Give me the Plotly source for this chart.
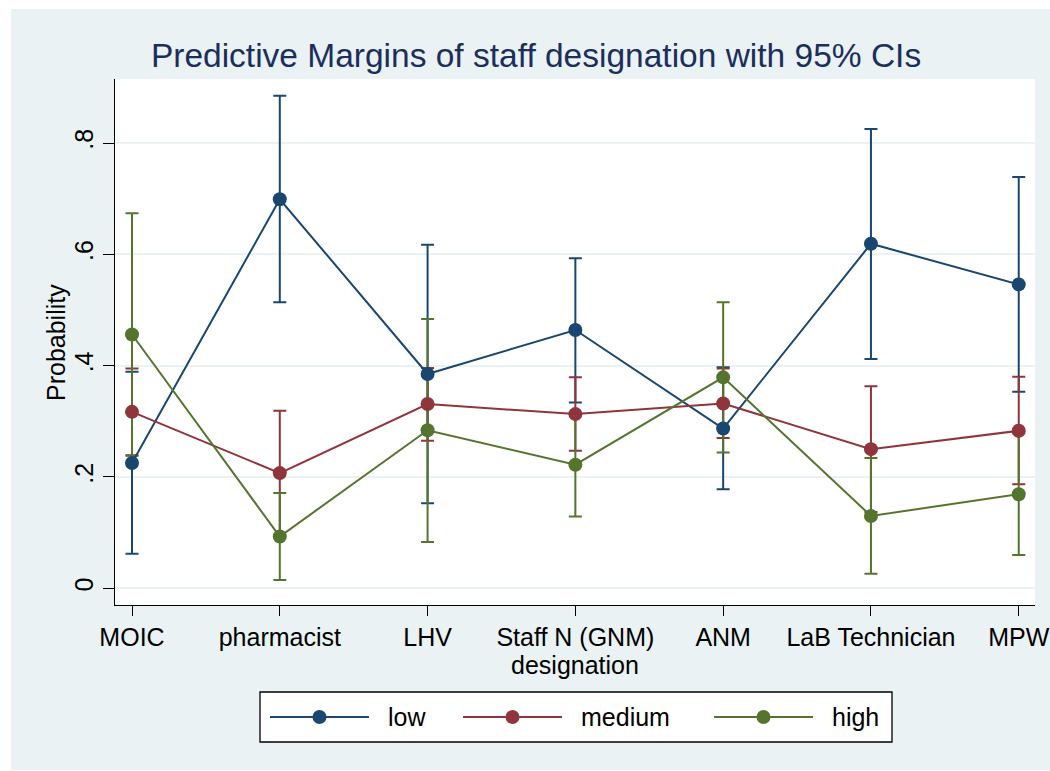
import plotly.graph_objects as go

categories = ["MOIC", "pharmacist", "LHV", "Staff N (GNM)", "ANM", "LaB Technician", "MPW"]
y_ticks = [0, 0.2, 0.4, 0.6, 0.8]
y_tick_labels = ["0", ".2", ".4", ".6", ".8"]

low = [0.225, 0.699, 0.385, 0.464, 0.287, 0.619, 0.546]
low_lo = [0.062, 0.514, 0.153, 0.334, 0.178, 0.412, 0.353]
low_hi = [0.389, 0.885, 0.617, 0.593, 0.397, 0.825, 0.739]

medium = [0.317, 0.207, 0.331, 0.313, 0.332, 0.250, 0.283]
medium_lo = [0.239, 0.095, 0.265, 0.247, 0.270, 0.137, 0.187]
medium_hi = [0.395, 0.319, 0.396, 0.379, 0.395, 0.363, 0.380]

high = [0.456, 0.093, 0.284, 0.222, 0.379, 0.130, 0.169]
high_lo = [0.238, 0.015, 0.083, 0.129, 0.244, 0.026, 0.060]
high_hi = [0.674, 0.171, 0.484, 0.314, 0.514, 0.234, 0.278]

series_names = ["low", "medium", "high"]
series_colors = ["#1A476F", "#90353B", "#55752F"]
series = list(zip(series_names, [low, medium, high], [low_lo, medium_lo, high_lo],
                  [low_hi, medium_hi, high_hi], series_colors))

FONT = "Liberation Sans, Arial, Helvetica, sans-serif"
BG = "#EAF2F3"

# layout geometry (pixels) for a 1050x771 canvas
W, H = 1050, 771
ML, MR, MT, MB = 115, 15, 79, 29
PW, PH = W - ML - MR, H - MT - MB
plot_bottom_px = 605
legend_box = (260, 892, 692, 742)  # x0, x1, y0(top), y1(bottom)


def px_x(p):
    return (p - ML) / PW


def px_y(p):
    return (H - MB - p) / PH


x = list(range(len(categories)))
fig = go.Figure()

# confidence intervals first (beneath lines and markers)
for name, vals, lo, hi, col in series:
    fig.add_trace(go.Scatter(
        x=x, y=vals, mode="markers",
        marker=dict(size=1, color="rgba(0,0,0,0)"),
        error_y=dict(type="data", symmetric=False,
                     array=[h - v for h, v in zip(hi, vals)],
                     arrayminus=[v - l for v, l in zip(vals, lo)],
                     color=col, thickness=2, width=6.5),
        showlegend=False, hoverinfo="skip",
    ))

for name, vals, lo, hi, col in series:
    fig.add_trace(go.Scatter(
        x=x, y=vals, mode="lines+markers", name=name,
        line=dict(color=col, width=2),
        marker=dict(size=14, color=col, opacity=1),
        showlegend=False,
    ))

# legend drawn in its own small axis pair (Stata-style long key symbols)
key_starts = [10, 203, 454]   # left end of each key line within the legend box
key_len = 99
text_gap = 17
annotations = []
for (name, vals, lo, hi, col), ks in zip(series, key_starts):
    fig.add_trace(go.Scatter(
        x=[ks, ks + key_len], y=[0.5, 0.5],
        xaxis="x2", yaxis="y2", mode="lines",
        line=dict(color=col, width=2),
        showlegend=False, hoverinfo="skip",
    ))
    fig.add_trace(go.Scatter(
        x=[ks + key_len / 2], y=[0.5],
        xaxis="x2", yaxis="y2", mode="markers",
        marker=dict(size=14, color=col, opacity=1),
        showlegend=False, hoverinfo="skip",
    ))
    annotations.append(dict(
        x=ks + key_len + text_gap, y=0.5, xref="x2", yref="y2",
        text=name, showarrow=False, xanchor="left", yanchor="middle",
        font=dict(family=FONT, size=25, color="black"),
    ))

# y-axis title
annotations.append(dict(
    x=px_x(56), y=px_y((79 + plot_bottom_px) / 2), xref="paper", yref="paper",
    text="Probability", textangle=-90, showarrow=False,
    xanchor="center", yanchor="middle",
    font=dict(family=FONT, size=25, color="black"),
))

lb_x0, lb_x1, lb_y0, lb_y1 = legend_box

fig.update_layout(
    width=W, height=H,
    margin=dict(l=ML, r=MR, t=MT, b=MB),
    paper_bgcolor="white", plot_bgcolor="rgba(0,0,0,0)",
    font=dict(family=FONT, color="black", size=25),
    title=dict(text="Predictive Margins of staff designation with 95% CIs",
               x=0.5105, xref="container", xanchor="center",
               y=0.928, yref="container", yanchor="middle",
               font=dict(family=FONT, size=33.5, color="#1C2E5C")),
    showlegend=False,
    annotations=annotations,
    shapes=[
        dict(type="rect", xref="paper", yref="paper",
             x0=px_x(11), x1=px_x(W + 5), y0=px_y(770), y1=px_y(9),
             fillcolor=BG, line=dict(width=0), layer="below"),
        dict(type="rect", xref="paper", yref="paper",
             x0=0, x1=1, y0=px_y(plot_bottom_px), y1=1,
             fillcolor="white", line=dict(width=0), layer="below"),
        dict(type="rect", xref="paper", yref="paper",
             x0=px_x(lb_x0), x1=px_x(lb_x1), y0=px_y(lb_y1), y1=px_y(lb_y0),
             fillcolor="white", line=dict(width=1.3, color="black"), layer="below"),
    ],
    xaxis=dict(
        domain=[0, 1], anchor="y", automargin=False,
        range=[-0.115, 6.11], tickmode="array", tickvals=x, ticktext=categories,
        showline=True, linecolor="black", linewidth=1.3,
        ticks="outside", ticklen=10, tickwidth=1.3, tickcolor="black",
        showgrid=False, zeroline=False,
        tickfont=dict(family=FONT, size=25, color="black"),
        title=dict(text="designation", font=dict(family=FONT, size=25, color="black"), standoff=0),
    ),
    yaxis=dict(
        domain=[px_y(plot_bottom_px), 1], anchor="x", automargin=False,
        range=[-0.030, 0.915], tickmode="array", tickvals=y_ticks, ticktext=y_tick_labels,
        showline=True, linecolor="black", linewidth=1.3,
        ticks="outside", ticklen=11, tickwidth=1.3, tickcolor="black",
        showgrid=True, gridcolor=BG, gridwidth=2, zeroline=False,
        tickangle=-90, ticklabelstandoff=0,
        tickfont=dict(family=FONT, size=25, color="black"),
    ),
    xaxis2=dict(
        domain=[px_x(lb_x0), px_x(lb_x1)], anchor="y2", range=[0, lb_x1 - lb_x0],
        visible=False, fixedrange=True,
    ),
    yaxis2=dict(
        domain=[px_y(lb_y1), px_y(lb_y0)], anchor="x2", range=[0, 1],
        visible=False, fixedrange=True,
    ),
)

fig.write_html(
    "out.html",
    config={"displayModeBar": False},
    post_script="document.body.style.margin='0';document.body.style.overflow='hidden';",
)
